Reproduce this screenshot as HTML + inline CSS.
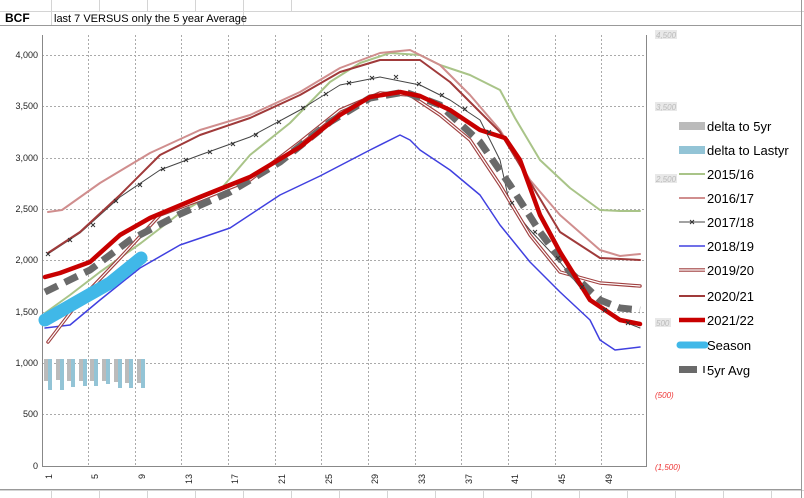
<!DOCTYPE html>
<html><head><meta charset="utf-8"><style>
html,body{margin:0;padding:0;background:#fff;width:804px;height:498px;overflow:hidden}
</style></head><body>
<svg width="804" height="498" viewBox="0 0 804 498" xmlns="http://www.w3.org/2000/svg" font-family="Liberation Sans, sans-serif">
<rect width="804" height="498" fill="#fff"/>
<g stroke="#d4d4d4" stroke-width="1">
<line x1="0" y1="11.5" x2="804" y2="11.5"/>
<line x1="0" y1="490.5" x2="804" y2="490.5"/>
<line x1="51.5" y1="0" x2="51.5" y2="25"/><line x1="99.5" y1="0" x2="99.5" y2="11"/><line x1="147.5" y1="0" x2="147.5" y2="11"/><line x1="195.5" y1="0" x2="195.5" y2="11"/><line x1="243.5" y1="0" x2="243.5" y2="25"/><line x1="291.5" y1="0" x2="291.5" y2="11"/>
<line x1="51.5" y1="490" x2="51.5" y2="498"/><line x1="99.5" y1="490" x2="99.5" y2="498"/><line x1="147.5" y1="490" x2="147.5" y2="498"/><line x1="195.5" y1="490" x2="195.5" y2="498"/><line x1="243.5" y1="490" x2="243.5" y2="498"/><line x1="291.5" y1="490" x2="291.5" y2="498"/><line x1="339.5" y1="490" x2="339.5" y2="498"/><line x1="387.5" y1="490" x2="387.5" y2="498"/><line x1="435.5" y1="490" x2="435.5" y2="498"/><line x1="483.5" y1="490" x2="483.5" y2="498"/><line x1="531.5" y1="490" x2="531.5" y2="498"/><line x1="579.5" y1="490" x2="579.5" y2="498"/><line x1="627.5" y1="490" x2="627.5" y2="498"/><line x1="675.5" y1="490" x2="675.5" y2="498"/><line x1="723.5" y1="490" x2="723.5" y2="498"/><line x1="771.5" y1="490" x2="771.5" y2="498"/>
</g>
<line x1="0" y1="25.5" x2="801" y2="25.5" stroke="#999"/>
<line x1="801.5" y1="0" x2="801.5" y2="498" stroke="#999"/>
<line x1="0" y1="489.5" x2="801" y2="489.5" stroke="#999"/>
<text x="5" y="22" font-size="12" font-weight="bold">BCF</text>
<text x="54" y="22" font-size="11">last 7 VERSUS only the 5 year Average</text>
<g stroke="#aaa" stroke-dasharray="2,2" stroke-width="1">
<line x1="42" y1="55.5" x2="646" y2="55.5"/><line x1="42" y1="106.5" x2="646" y2="106.5"/><line x1="42" y1="158.5" x2="646" y2="158.5"/><line x1="42" y1="209.5" x2="646" y2="209.5"/><line x1="42" y1="260.5" x2="646" y2="260.5"/><line x1="42" y1="312.5" x2="646" y2="312.5"/><line x1="42" y1="363.5" x2="646" y2="363.5"/><line x1="42" y1="414.5" x2="646" y2="414.5"/>
<line x1="88.5" y1="35" x2="88.5" y2="466"/><line x1="135.5" y1="35" x2="135.5" y2="466"/><line x1="181.5" y1="35" x2="181.5" y2="466"/><line x1="228.5" y1="35" x2="228.5" y2="466"/><line x1="275.5" y1="35" x2="275.5" y2="466"/><line x1="321.5" y1="35" x2="321.5" y2="466"/><line x1="368.5" y1="35" x2="368.5" y2="466"/><line x1="415.5" y1="35" x2="415.5" y2="466"/><line x1="461.5" y1="35" x2="461.5" y2="466"/><line x1="508.5" y1="35" x2="508.5" y2="466"/><line x1="555.5" y1="35" x2="555.5" y2="466"/><line x1="601.5" y1="35" x2="601.5" y2="466"/>
</g>
<g stroke="#888" stroke-width="1">
<line x1="42.5" y1="35" x2="42.5" y2="467"/>
<line x1="42" y1="466.5" x2="646" y2="466.5"/>
<line x1="646.5" y1="35" x2="646.5" y2="467"/>
</g>
<g font-size="9" text-anchor="end" fill="#222">
<text x="38" y="58">4,000</text><text x="38" y="109">3,500</text><text x="38" y="161">3,000</text><text x="38" y="212">2,500</text><text x="38" y="263">2,000</text><text x="38" y="315">1,500</text><text x="38" y="366">1,000</text><text x="38" y="417">500</text><text x="38" y="469">0</text>
</g>
<g font-size="8" font-style="italic">
<rect x="655" y="30" width="22" height="9" fill="#e8e8e8"/><text x="656" y="38" fill="#bbb">4,500</text>
<rect x="655" y="102" width="22" height="9" fill="#e8e8e8"/><text x="656" y="110" fill="#bbb">3,500</text>
<rect x="655" y="174" width="22" height="9" fill="#e8e8e8"/><text x="656" y="182" fill="#bbb">2,500</text>
<rect x="655" y="318" width="16" height="9" fill="#e8e8e8"/><text x="656" y="326" fill="#bbb">500</text>
<text x="655" y="398" fill="#e33">(500)</text>
<text x="655" y="470" fill="#e33">(1,500)</text>
</g>
<g font-size="9" fill="#222">
<text transform="translate(52,474) rotate(-90)" text-anchor="end">1</text>
<text transform="translate(98,474) rotate(-90)" text-anchor="end">5</text>
<text transform="translate(145,474) rotate(-90)" text-anchor="end">9</text>
<text transform="translate(192,474) rotate(-90)" text-anchor="end">13</text>
<text transform="translate(238,474) rotate(-90)" text-anchor="end">17</text>
<text transform="translate(285,474) rotate(-90)" text-anchor="end">21</text>
<text transform="translate(332,474) rotate(-90)" text-anchor="end">25</text>
<text transform="translate(378,474) rotate(-90)" text-anchor="end">29</text>
<text transform="translate(425,474) rotate(-90)" text-anchor="end">33</text>
<text transform="translate(472,474) rotate(-90)" text-anchor="end">37</text>
<text transform="translate(518,474) rotate(-90)" text-anchor="end">41</text>
<text transform="translate(565,474) rotate(-90)" text-anchor="end">45</text>
<text transform="translate(612,474) rotate(-90)" text-anchor="end">49</text>
</g>
<g>
<rect x="44" y="359" width="4" height="22" fill="#bbb"/><rect x="48" y="359" width="4" height="31" fill="#93c4d6"/>
<rect x="56" y="359" width="4" height="21" fill="#bbb"/><rect x="60" y="359" width="4" height="31" fill="#93c4d6"/>
<rect x="67" y="359" width="4" height="22" fill="#bbb"/><rect x="71" y="359" width="4" height="28" fill="#93c4d6"/>
<rect x="79" y="359" width="4" height="22" fill="#bbb"/><rect x="83" y="359" width="4" height="27" fill="#93c4d6"/>
<rect x="90" y="359" width="4" height="22" fill="#bbb"/><rect x="94" y="359" width="4" height="27" fill="#93c4d6"/>
<rect x="102" y="359" width="4" height="22" fill="#bbb"/><rect x="106" y="359" width="4" height="25" fill="#93c4d6"/>
<rect x="114" y="359" width="4" height="23" fill="#bbb"/><rect x="118" y="359" width="4" height="29" fill="#93c4d6"/>
<rect x="125" y="359" width="4" height="24" fill="#bbb"/><rect x="129" y="359" width="4" height="29" fill="#93c4d6"/>
<rect x="137" y="359" width="4" height="24" fill="#bbb"/><rect x="141" y="359" width="4" height="29" fill="#93c4d6"/>
</g>
<g fill="none" stroke-linejoin="round" stroke-linecap="round">
<polyline stroke="#a9c488" stroke-width="2" points="45,313 70,295 100,272 141,243 180,213 220,190 250,155 290,123 330,82 360,63 390,53 420,55 440,65 470,75 500,90 515,118 540,160 570,188 600,210 620,211 640,211"/>
<polyline stroke="#d08e8e" stroke-width="2" points="48,212 62,210 100,183 150,153 200,130 250,115 300,92 340,68 380,53 410,50 440,65 470,95 500,130 530,180 560,215 600,250 620,256 640,254"/>
<polyline stroke="#444" stroke-width="1" points="48,254 80,233 120,197 160,170 200,155 250,137 300,110 340,85 380,77 420,85 450,100 480,120 500,160 510,205 530,230 560,262 590,300 620,320 640,328"/>
<polyline stroke="#4040e0" stroke-width="1.5" points="45,328 70,325 100,300 140,268 180,245 230,228 280,195 320,176 370,150 400,135 410,140 420,150 450,170 480,195 500,225 530,262 560,292 590,320 600,340 615,350 640,347"/>
<polyline stroke="#a04040" stroke-width="3.5" points="48,342 80,300 120,258 160,215 200,200 250,180 300,142 340,110 380,93 410,95 440,115 470,140 500,185 530,235 560,272 600,283 640,286"/>
<polyline stroke="#fff" stroke-width="1.2" points="48,342 80,300 120,258 160,215 200,200 250,180 300,142 340,110 380,93 410,95 440,115 470,140 500,185 530,235 560,272 600,283 640,286"/>
<polyline stroke="#a03a3a" stroke-width="2" points="48,253 80,232 120,195 160,155 200,135 250,118 300,95 340,72 380,60 420,60 450,82 480,112 500,132 530,182 560,232 600,258 640,260"/>
<polyline stroke="#40b8e8" stroke-width="13" points="45,320 80,300 110,283 141,258"/>
<polyline stroke="#6a6a6a" stroke-width="7" stroke-dasharray="14,8" stroke-linecap="butt" points="45,292 90,270 130,240 180,214 230,192 280,162 330,122 370,98 405,92 440,105 480,142 510,185 540,232 570,272 600,300 620,308 640,310"/>
<polyline stroke="#c80000" stroke-width="4.5" points="45,277 60,273 90,262 120,235 150,218 200,197 250,177 300,147 340,115 370,97 400,92 420,96 450,110 480,130 505,138 520,160 540,215 560,252 590,300 620,320 640,324"/>
</g>
<g stroke="#333" stroke-width="1">
<path d="M46,252l4,4m0,-4l-4,4 M68,238l4,4m0,-4l-4,4 M91,223l4,4m0,-4l-4,4 M114,199l4,4m0,-4l-4,4 M138,183l4,4m0,-4l-4,4 M161,167l4,4m0,-4l-4,4 M184,158l4,4m0,-4l-4,4 M208,150l4,4m0,-4l-4,4 M231,142l4,4m0,-4l-4,4 M254,133l4,4m0,-4l-4,4 M277,120l4,4m0,-4l-4,4 M301,106l4,4m0,-4l-4,4 M324,92l4,4m0,-4l-4,4 M347,81l4,4m0,-4l-4,4 M370,76l4,4m0,-4l-4,4 M394,75l4,4m0,-4l-4,4 M417,82l4,4m0,-4l-4,4 M440,93l4,4m0,-4l-4,4 M463,107l4,4m0,-4l-4,4 M487,130l4,4m0,-4l-4,4 M510,201l4,4m0,-4l-4,4 M533,230l4,4m0,-4l-4,4 M556,256l4,4m0,-4l-4,4 M580,285l4,4m0,-4l-4,4 M603,308l4,4m0,-4l-4,4 M626,321l4,4m0,-4l-4,4"/>
</g>
<g font-size="13" fill="#000" font-family="Liberation Sans, sans-serif">
<rect x="679" y="122" width="26" height="8" fill="#bbb"/><text x="707" y="131">delta to 5yr</text>
<rect x="679" y="146" width="26" height="8" fill="#93c4d6"/><text x="707" y="155">delta to Lastyr</text>
<line x1="679" y1="174" x2="705" y2="174" stroke="#a9c488" stroke-width="2"/><text x="707" y="179">2015/16</text>
<line x1="679" y1="198" x2="705" y2="198" stroke="#d08e8e" stroke-width="2"/><text x="707" y="203">2016/17</text>
<line x1="679" y1="222" x2="705" y2="222" stroke="#444" stroke-width="1"/><path d="M690,220l4,4m0,-4l-4,4" stroke="#333"/><text x="707" y="227">2017/18</text>
<line x1="679" y1="246" x2="705" y2="246" stroke="#4040e0" stroke-width="1.5"/><text x="707" y="251">2018/19</text>
<line x1="679" y1="270" x2="705" y2="270" stroke="#a04040" stroke-width="3.5"/><line x1="679" y1="270" x2="705" y2="270" stroke="#fff" stroke-width="1.2"/><text x="707" y="275">2019/20</text>
<line x1="679" y1="296" x2="705" y2="296" stroke="#a03a3a" stroke-width="2"/><text x="707" y="301">2020/21</text>
<line x1="679" y1="320" x2="705" y2="320" stroke="#c80000" stroke-width="4.5"/><text x="707" y="325">2021/22</text>
<line x1="680" y1="345" x2="705" y2="345" stroke="#40b8e8" stroke-width="7" stroke-linecap="round"/><text x="707" y="350">Season</text>
<rect x="679" y="366" width="18" height="7" fill="#6a6a6a"/><rect x="703" y="366" width="2" height="7" fill="#6a6a6a"/><text x="707" y="375">5yr Avg</text>
</g>
</svg>
</body></html>
